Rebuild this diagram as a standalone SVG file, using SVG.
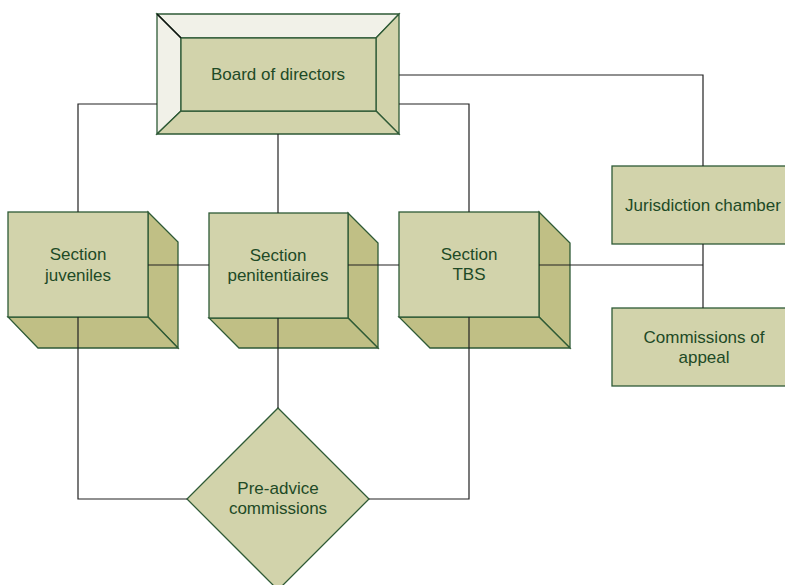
<svg xmlns="http://www.w3.org/2000/svg" width="785" height="585" viewBox="0 0 785 585">
<style>
.front{fill:#d2d3ab;stroke:#2e5a36;stroke-width:1.3}
.side{fill:#c0bf85;stroke:#2e5a36;stroke-width:1.3}
.light{fill:#f1f1e8;stroke:#2e5a36;stroke-width:1.3}
.lbl{font-family:"Liberation Sans",Arial,sans-serif;font-size:17px;fill:#1e4a26;text-anchor:middle}
.conn{fill:none;stroke:#222;stroke-width:1.2}
</style>
<rect width="785" height="585" fill="#ffffff"/>
<g id="board">
<polygon class="light" points="157,14 399,14 376,38 181,38"/>
<polygon class="light" points="157,14 181,38 181,111 157,134"/>
<polygon class="front" points="399,14 399,134 376,111 376,38"/>
<polygon class="front" points="157,134 181,111 376,111 399,134"/>
<rect class="front" x="181" y="38" width="195" height="73"/>
<line x1="157" y1="14" x2="181" y2="38" stroke="#111" stroke-width="1.3"/>
<text class="lbl" x="278" y="80">Board of directors</text>
</g>
<g id="juveniles">
<polygon class="side" points="148,212 178,242 178,348 148,317"/>
<polygon class="side" points="8,317 148,317 178,348 38,348"/>
<rect class="front" x="8" y="212" width="140" height="105"/>
<text class="lbl" x="78" y="260">Section</text>
<text class="lbl" x="78" y="281">juveniles</text>
</g>
<g id="penitentiaires">
<polygon class="side" points="348,213 378,243 378,348 348,318"/>
<polygon class="side" points="209,318 348,318 378,348 239,348"/>
<rect class="front" x="209" y="213" width="139" height="105"/>
<text class="lbl" x="278" y="261">Section</text>
<text class="lbl" x="278" y="281">penitentiaires</text>
</g>
<g id="tbs">
<polygon class="side" points="539,212 570,243 570,348 539,317"/>
<polygon class="side" points="399,317 539,317 570,348 430,348"/>
<rect class="front" x="399" y="212" width="140" height="105"/>
<text class="lbl" x="469" y="260">Section</text>
<text class="lbl" x="469" y="280">TBS</text>
</g>
<g id="jurisdiction">
<rect class="front" x="612" y="166" width="180" height="78"/>
<text class="lbl" x="703" y="211">Jurisdiction chamber</text>
</g>
<g id="appeal">
<rect class="front" x="612" y="308" width="180" height="78"/>
<text class="lbl" x="704" y="343">Commissions of</text>
<text class="lbl" x="704" y="363">appeal</text>
</g>
<g id="preadvice">
<polygon class="front" points="278,408 369,499 278,590 187,499"/>
<text class="lbl" x="278" y="494">Pre-advice</text>
<text class="lbl" x="278" y="514">commissions</text>
</g>
<g id="connectors">
<polyline class="conn" points="157,104 78,104 78,212"/>
<polyline class="conn" points="399,104 469,104 469,212"/>
<line class="conn" x1="278" y1="134" x2="278" y2="213"/>
<polyline class="conn" points="399,75 703,75 703,166" stroke="#666"/>
<line class="conn" x1="148" y1="265" x2="209" y2="265"/>
<line class="conn" x1="348" y1="265" x2="399" y2="265"/>
<polyline class="conn" points="539,265 703,265"/>
<line class="conn" x1="703" y1="244" x2="703" y2="308"/>
<polyline class="conn" points="78,317 78,499 187,499"/>
<polyline class="conn" points="469,317 469,499 369,499"/>
<line class="conn" x1="278" y1="318" x2="278" y2="408"/>
</g>
</svg>
